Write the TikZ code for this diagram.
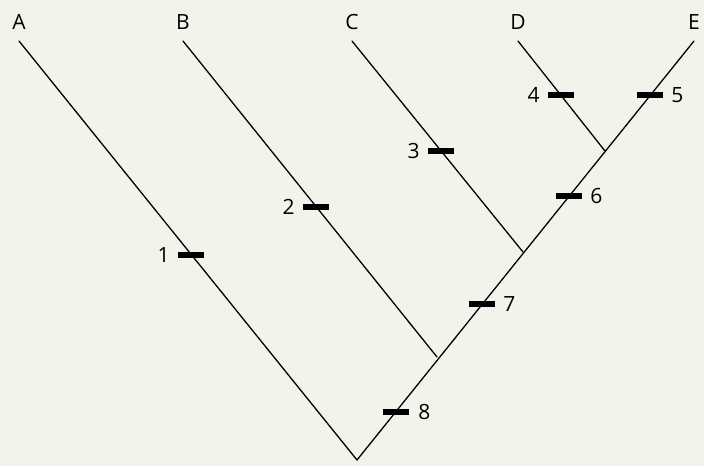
\documentclass[tikz,border=0pt]{standalone}
\usepackage{fontspec}
\setmainfont{Open Sans}
\usetikzlibrary{positioning}
\definecolor{paper}{HTML}{F4F3EB}

\begin{document}
\begin{tikzpicture}[
    x=1pt, y=-1pt,
    branch/.style={line width=1.3pt, line cap=round},
    tick/.style={fill=black, inner sep=0, minimum width=26pt, minimum height=5.5pt},
    taxon/.style={font=\fontsize{21}{24}\selectfont, inner sep=0},
    charnum/.style={font=\fontsize{21}{24}\selectfont, inner sep=0}
]

% Background
\fill [paper] (0,0) rectangle (704,466);

% Tips and internal nodes
\coordinate (root) at (357,460);
\coordinate (nB) at (437,357);
\coordinate (nC) at (523,252);
\coordinate (nDE) at (605,151);
\coordinate (tA) at (19,41);
\coordinate (tB) at (183,41);
\coordinate (tC) at (352,41);
\coordinate (tD) at (518,41);
\coordinate (tE) at (694,41);

% Branches
\draw [branch] (tA) -- (root) -- (tE);
\draw [branch] (tB) -- (nB);
\draw [branch] (tC) -- (nC);
\draw [branch] (tD) -- (nDE);

% Taxon names
\node [taxon, above=11pt of tA] (lA) {A};
\node [taxon, above=11pt of tB] (lB) {B};
\node [taxon, above=11pt of tC] (lC) {C};
\node [taxon, above=11pt of tD] (lD) {D};
\node [taxon, above=11pt of tE] (lE) {E};

% Character changes
\node [tick] (c1) at (191,255) {};
\node [tick] (c2) at (316,207) {};
\node [tick] (c3) at (441,151) {};
\node [tick] (c4) at (561,95) {};
\node [tick] (c5) at (650,95) {};
\node [tick] (c6) at (569,196) {};
\node [tick] (c7) at (482,304) {};
\node [tick] (c8) at (396,412) {};

\node [charnum, left=8pt of c1] (n1) {1};
\node [charnum, left=8pt of c2] (n2) {2};
\node [charnum, left=8pt of c3] (n3) {3};
\node [charnum, left=8pt of c4] (n4) {4};
\node [charnum, right=8pt of c5] (n5) {5};
\node [charnum, right=8pt of c6] (n6) {6};
\node [charnum, right=8pt of c7] (n7) {7};
\node [charnum, right=9pt of c8] (n8) {8};

\end{tikzpicture}
\end{document}
